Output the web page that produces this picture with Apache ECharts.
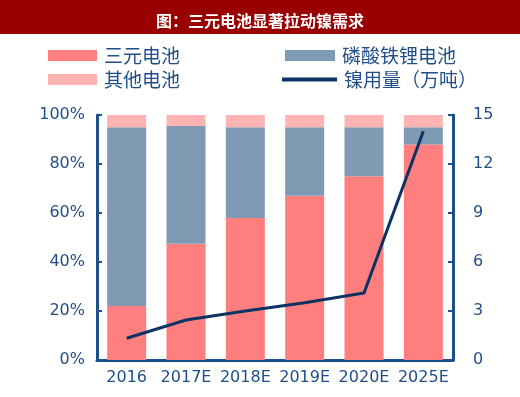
<!DOCTYPE html>
<html><head><meta charset="utf-8">
<script src="https://cdn.jsdelivr.net/npm/echarts@6/dist/echarts.min.js"></script>
<style>html,body{margin:0;padding:0;background:#fff}#c{width:520px;height:397px}</style>
</head><body><div id="c"></div>
<script>
const categories = ['2016','2017E','2018E','2019E','2020E','2025E'];
const ternary = [22, 47.5, 58, 67, 75, 88];
const lfp = [73, 48, 37, 28, 20, 7];
const others = [5, 4.5, 5, 5, 5, 5];
const nickel = [1.33, 2.45, 3.0, 3.5, 4.1, 14];
const leftTicks = [0, 20, 40, 60, 80, 100];
const rightTicks = [0, 3, 6, 9, 12, 15];

const axisColor = '#1D4F8C';
const labelColor = '#1F4E89';
const font = '"Noto Sans CJK SC", sans-serif';
const chart = echarts.init(document.getElementById('c'));
function leg(name, left, top, icon, w, h) {
  return { data: [{ name: name, icon: icon }], left: left, top: top, itemWidth: w, itemHeight: h,
    itemGap: 0, padding: 0, textStyle: { color: labelColor, fontSize: 19, fontFamily: font, padding: [0, 0, 0, 2] } };
}
chart.setOption({
  animation: false,
  graphic: [{ type: 'rect', shape: { x: 0, y: 0, width: 520, height: 34 }, style: { fill: '#990000' }, z: -1 }],
  title: { text: '图：三元电池显著拉动镍需求', left: 'center', top: 8,
    textStyle: { color: '#fff', fontSize: 16, fontWeight: 'bold', fontFamily: font } },
  legend: [
    leg('三元电池', 48, 46, 'rect', 49, 11),
    leg('磷酸铁锂电池', 285, 46, 'rect', 50, 11),
    leg('其他电池', 48, 70, 'rect', 49, 11),
    leg('镍用量（万吨）', 282, 70, 'rect', 55, 4)
  ],
  grid: { left: 97, right: 67, top: 115, bottom: 37 },
  xAxis: { type: 'category', data: categories,
    axisLine: { lineStyle: { color: axisColor, width: 3 } }, axisTick: { show: false },
    axisLabel: { color: labelColor, fontSize: 16, margin: 10, interval: 0, hideOverlap: false, fontFamily: 'DejaVu Sans' } },
  yAxis: [
    { type: 'value', min: 0, max: 100, interval: 20,
      axisLine: { show: true, lineStyle: { color: axisColor, width: 3 } },
      axisTick: { show: true, inside: true, length: 5, lineStyle: { color: axisColor, width: 2 } },
      splitLine: { show: false },
      axisLabel: { color: labelColor, fontSize: 16, margin: 12, fontFamily: 'DejaVu Sans', formatter: v => v + '%' } },
    { type: 'value', min: 0, max: 15, interval: 3,
      axisLine: { show: true, lineStyle: { color: axisColor, width: 3 } },
      axisTick: { show: true, inside: true, length: 5, lineStyle: { color: axisColor, width: 2 } },
      splitLine: { show: false },
      axisLabel: { color: labelColor, fontSize: 16, margin: 20, fontFamily: 'DejaVu Sans' } }
  ],
  series: [
    { name: '三元电池', type: 'bar', stack: 's', data: ternary, barWidth: 39, itemStyle: { color: '#FF7F7F' } },
    { name: '磷酸铁锂电池', type: 'bar', stack: 's', data: lfp, barWidth: 39, itemStyle: { color: '#7F9AB3' } },
    { name: '其他电池', type: 'bar', stack: 's', data: others, barWidth: 39, itemStyle: { color: '#FFB3B3' } },
    { name: '镍用量（万吨）', type: 'line', yAxisIndex: 1, data: nickel, symbol: 'none',
      lineStyle: { color: '#0B3363', width: 3 }, itemStyle: { color: '#0B3363' } }
  ]
});
</script></body></html>
